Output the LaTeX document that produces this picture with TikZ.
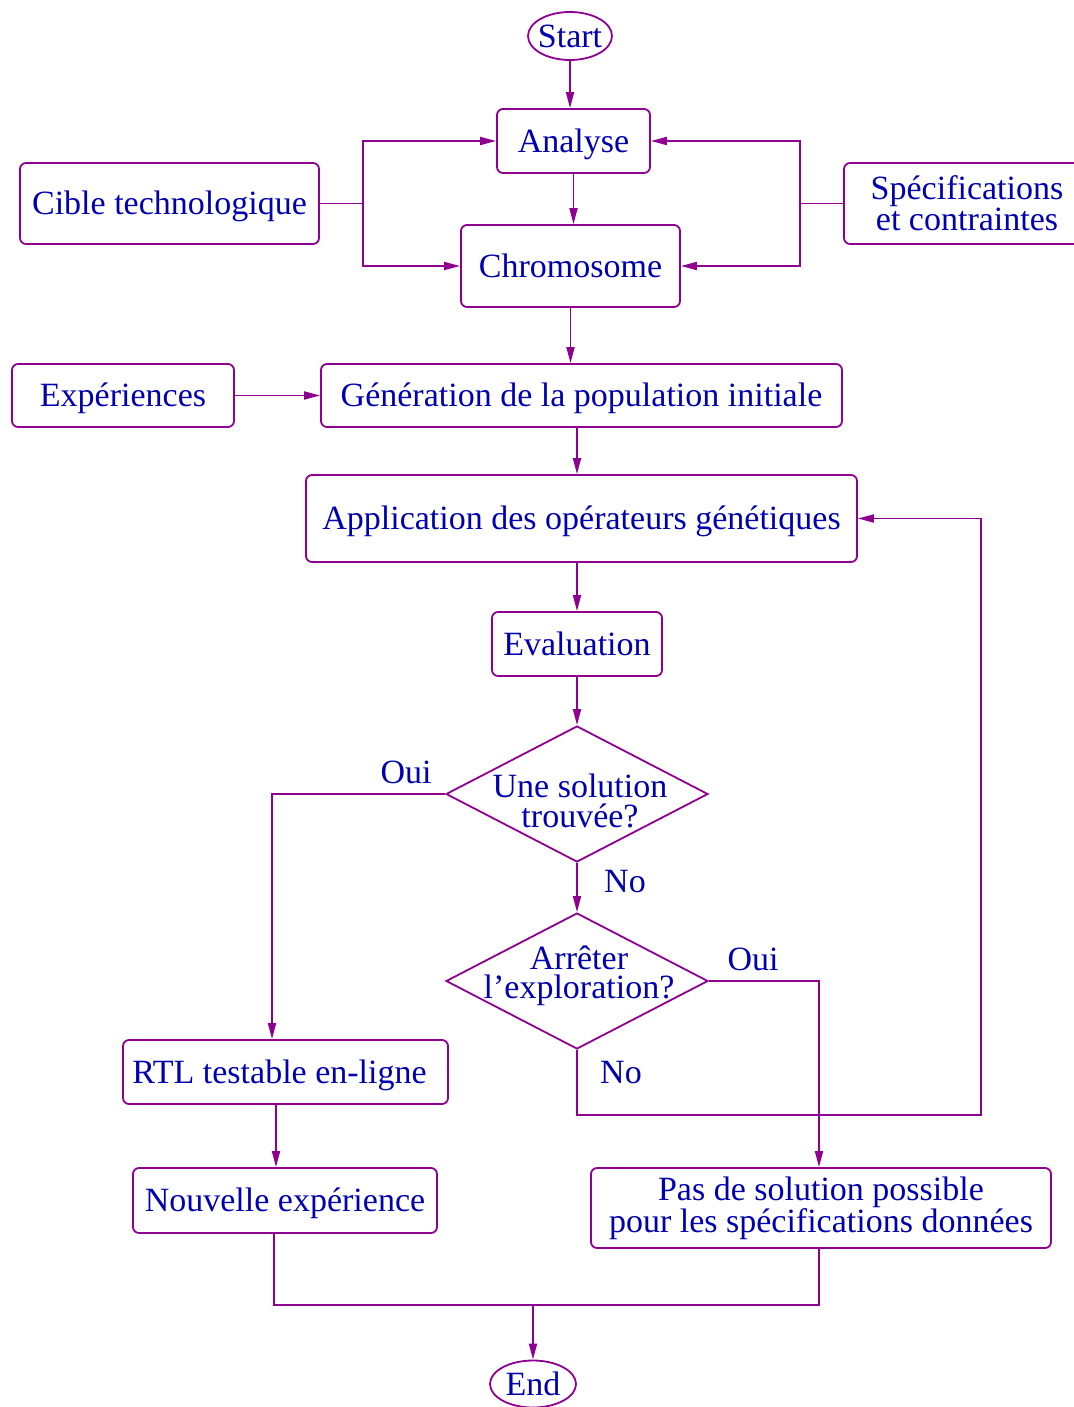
\documentclass[tikz,border=0pt]{standalone}
\usepackage{fontspec}
\setmainfont{Liberation Serif}
\usetikzlibrary{arrows.meta,shapes.geometric}
\definecolor{linec}{RGB}{144,0,144}
\definecolor{textc}{RGB}{0,0,176}
\begin{document}
\begin{tikzpicture}[x=1pt,y=-1pt,
  every node/.style={text=textc, font=\fontsize{34pt}{29.5pt}\selectfont},
  frame/.style={draw=linec, line width=1.8pt},
  box/.style={frame, rounded corners=6pt, inner sep=0pt},
  onebox/.style={box, text height=22.5pt, text depth=0pt},
  twobox/.style={box, align=center},
  term/.style={frame, ellipse, inner sep=0pt},
  decision/.style={frame, diamond, inner sep=0pt},
  txt/.style={inner sep=0pt, align=center},
  lbl/.style={inner sep=0pt, text height=22.5pt, text depth=0pt},
  line/.style={draw=linec, line width=1.8pt},
  arr/.style={line, -{Triangle[length=16pt,width=8pt]}}
]
\useasboundingbox (0,0) rectangle (1073,1407);

% terminals
\node[term, minimum width=84pt, minimum height=48pt,
      label={[txt]center:Start}] (start) at (570,36) {};
\node[term, minimum width=86pt, minimum height=47pt,
      label={[txt]center:End}] (endn) at (533,1384) {};

% upper part
\node[onebox, minimum width=153pt, minimum height=64pt] (analyse) at (573.5,141) {Analyse};
\node[onebox, minimum width=219pt, minimum height=82pt] (chromo) at (570.5,266) {Chromosome};
\node[onebox, minimum width=299pt, minimum height=81pt] (cible) at (169.5,203.5) {Cible technologique};
\node[twobox, minimum width=246pt, minimum height=81pt] (spec) at (967,203.5) {Spécifications\\et contraintes};
\node[onebox, minimum width=521pt, minimum height=63pt] (gen) at (581.5,395.5) {Génération de la population initiale};
\node[onebox, minimum width=222pt, minimum height=63pt] (exp) at (123,395.5) {Expériences};
\node[onebox, minimum width=551pt, minimum height=87pt] (app) at (581.5,518.5) {Application des opérateurs génétiques};
\node[onebox, minimum width=170pt, minimum height=64pt] (eval) at (577,644) {Evaluation};

% decisions
\node[decision, minimum width=262pt, minimum height=136pt] (d1) at (577,794) {};
\node[txt, xshift=3pt, yshift=-7pt] (d1t) at (d1) {Une solution\\trouvée?};
\node[decision, minimum width=262pt, minimum height=136pt] (d2) at (577,981) {};
\node[txt, xshift=2pt, yshift=5pt] (d2t) at (d2) {Arrêter\\l’exploration?};

% lower part
\node[onebox, minimum width=325pt, minimum height=64pt] (rtl) at (285.5,1072) {RTL testable en-ligne\hspace*{12pt}};
\node[onebox, minimum width=304pt, minimum height=65pt] (nouv) at (285,1200.5) {Nouvelle expérience};
\node[twobox, minimum width=460pt, minimum height=80pt] (pas) at (821,1208) {Pas de solution possible\\pour les spécifications données};

% branch labels
\node[lbl] (oui1) at (406,772) {Oui};
\node[lbl] (no1) at (625,881) {No};
\node[lbl] (oui2) at (753,959) {Oui};
\node[lbl] (no2) at (621,1072) {No};

% junction points
\coordinate (cj) at (363,203.5);
\coordinate (sj) at (800,203.5);
\coordinate (loop) at (981,1115);
\coordinate (join) at (533,1305);

% connectors
\draw[arr] (start) -- (start |- analyse.north);
\draw[arr] (analyse.south) -- (analyse.south |- chromo.north);
\draw[line] (cible.east) -- (cj);
\draw[arr] (cj) |- (analyse.west);
\draw[arr] (cj) |- (chromo.west);
\draw[line] (spec.west) -- (sj);
\draw[arr] (sj) |- (analyse.east);
\draw[arr] (sj) |- (chromo.east);
\draw[arr] (chromo.south) -- (chromo.south |- gen.north);
\draw[arr] (exp.east) -- (gen.west);
\draw[arr] (gen.south -| eval) -- (app.north -| eval);
\draw[arr] (app.south -| eval) -- (eval.north);
\draw[arr] (eval.south) -- (d1.north);
\draw[arr] (d1.west) -| ([xshift=-13.5pt]rtl.north);
\draw[arr] (d1.south) -- (d2.north);
\draw[arr] (d2.east) -| ([xshift=-2pt]pas.north);
\draw[arr] (d2.south) |- (loop) |- (app.east);
\draw[arr] ([xshift=-9.5pt]rtl.south) -- ([xshift=-9pt]nouv.north);
\draw[line] ([xshift=-11pt]nouv.south) |- (join);
\draw[line] ([xshift=-2pt]pas.south) |- (join);
\draw[arr] (join) -- (endn.north);
\end{tikzpicture}
\end{document}
